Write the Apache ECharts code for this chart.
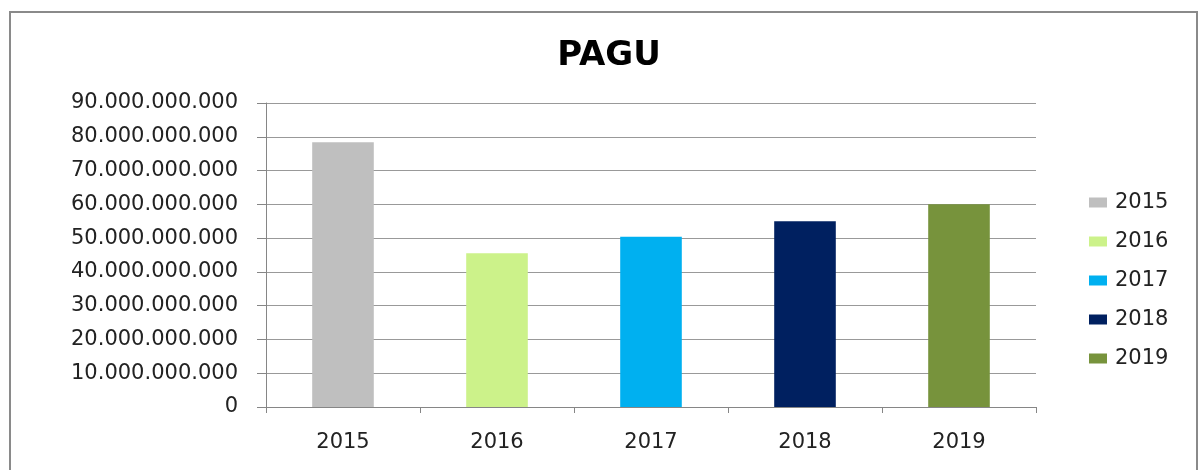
<!DOCTYPE html>
<html>
<head>
<meta charset="utf-8">
<title>PAGU</title>
<script src="https://cdn.jsdelivr.net/npm/echarts@6/dist/echarts.min.js"></script>
<style>
  html, body { margin: 0; padding: 0; background: #fff; }
  #main { width: 1200px; height: 470px; }
</style>
</head>
<body>
<div id="main"></div>
<script>
// data
var years = ["2015", "2016", "2017", "2018", "2019"];
var pagu = [78400000000, 45500000000, 50400000000, 55000000000, 60000000000];
var barColors = ["#BFBFBF", "#CCF28A", "#00B0F0", "#002060", "#77933C"];
var yTicks = { min: 0, max: 90000000000, interval: 10000000000 };

// thousands separator with dots
function fmt(v) {
  return String(v).replace(/\B(?=(\d{3})+(?!\d))/g, ".");
}

// one series per year, stacked so each bar sits centred in its own category
var series = [];
for (var i = 0; i < years.length; i++) {
  var d = [];
  for (var j = 0; j < years.length; j++) {
    d.push(j == i ? pagu[i] : "-");
  }
  series.push({
    name: years[i],
    type: "bar",
    stack: "pagu",
    barWidth: "40%",
    itemStyle: { color: barColors[i] },
    data: d
  });
}

var font = "DejaVu Sans";

var option = {
  animation: false,
  backgroundColor: "#fff",
  title: {
    text: "PAGU",
    left: 604,
    top: 34,
    textAlign: "center",
    textStyle: { fontFamily: font, fontSize: 34, fontWeight: "bold", color: "#000" }
  },
  legend: {
    orient: "vertical",
    left: 1084,
    top: 187,
    itemWidth: 18,
    itemHeight: 10,
    itemGap: 18,
    icon: "rect",
    data: years,
    textStyle: { fontFamily: font, fontSize: 21, color: "#222", padding: [0, 0, 0, 3] }
  },
  grid: {
    left: 266,
    right: 164,
    top: 103,
    bottom: 63
  },
  xAxis: {
    type: "category",
    data: years,
    axisLine: { lineStyle: { color: "#868686", width: 1 } },
    axisTick: { show: true, length: 6, interval: 0, lineStyle: { color: "#868686" } },
    axisLabel: { fontFamily: font, fontSize: 21, color: "#222", margin: 25 }
  },
  yAxis: {
    type: "value",
    min: yTicks.min,
    max: yTicks.max,
    interval: yTicks.interval,
    axisLine: { show: true, lineStyle: { color: "#868686", width: 1 } },
    axisTick: { show: true, length: 9, lineStyle: { color: "#868686" } },
    axisLabel: {
      fontFamily: font,
      fontSize: 21,
      color: "#222",
      margin: 28,
      formatter: fmt
    },
    splitLine: { lineStyle: { color: "#999", width: 1 } }
  },
  graphic: [{
    type: "rect",
    shape: { x: 10, y: 12, width: 1187, height: 480 },
    style: { fill: null, stroke: "#8a8a8a", lineWidth: 2 },
    silent: true
  }],
  series: series
};

var myChart = echarts.init(document.getElementById("main"));
myChart.setOption(option);
</script>
</body>
</html>
